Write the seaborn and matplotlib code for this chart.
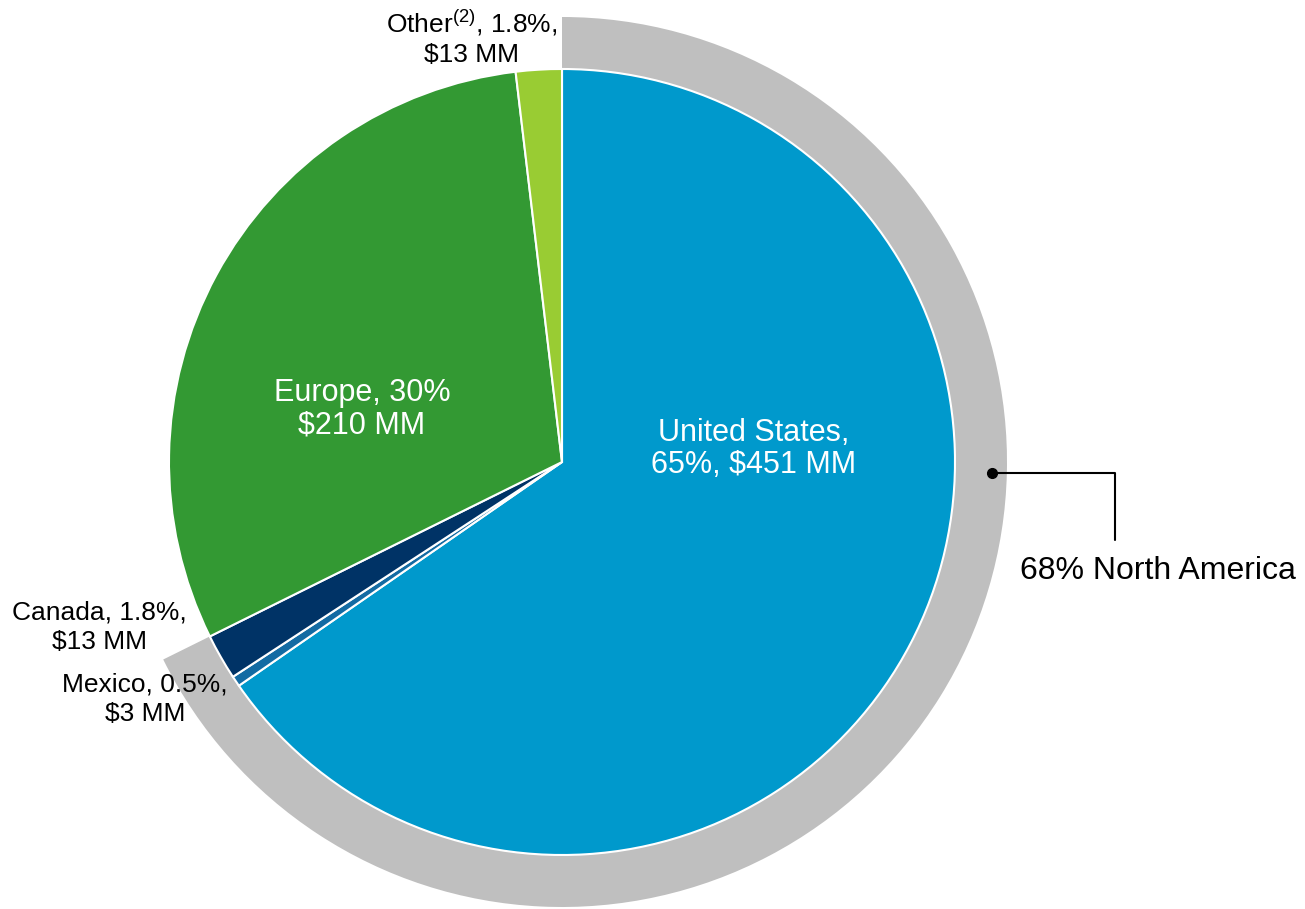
import matplotlib
matplotlib.use("Agg")
import matplotlib.pyplot as plt
import seaborn as sns

# %% Data
regions = ["United States", "Mexico", "Canada", "Europe", "Other"]
revenue_mm = [451, 3, 13, 210, 13]
share_pct = ["65%", "0.5%", "1.8%", "30%", "1.8%"]
slice_colors = ["#0099CC", "#136BA3", "#003366", "#339933", "#99CC33"]

north_america = ["United States", "Mexico", "Canada"]
na_label = "68% North America"

# %% Style
sns.set_theme(style="white")
plt.rcParams["font.family"] = ["Liberation Sans", "DejaVu Sans"]
plt.rcParams["mathtext.fontset"] = "custom"
plt.rcParams["mathtext.rm"] = "Liberation Sans"

W, H = 1305, 909
fig = plt.figure(figsize=(W / 100, H / 100), dpi=100)
ax = fig.add_axes([0, 0, 1, 1])

cx, cy = 562, H - 462
r_pie = 393
r_ring = 445

# outer grey ring for North America
na_total = sum(v for k, v in zip(regions, revenue_mm) if k in north_america)
rest_total = sum(revenue_mm) - na_total
ax.pie(
    [na_total, rest_total],
    colors=["#BFBFBF", "none"],
    startangle=90,
    counterclock=False,
    radius=r_ring,
    center=(cx, cy),
    wedgeprops=dict(linewidth=0),
)

# main pie
ax.pie(
    revenue_mm,
    colors=slice_colors,
    startangle=90,
    counterclock=False,
    radius=r_pie,
    center=(cx, cy),
    wedgeprops=dict(edgecolor="white", linewidth=1.5),
)

ax.set_xlim(0, W)
ax.set_ylim(0, H)
ax.set_aspect("equal")
ax.axis("off")


def px(x, y):
    return x, H - y


lab = dict(zip(regions, zip(share_pct, revenue_mm)))

# labels inside
p, v = lab["United States"]
ax.text(*px(754, 449), f"United States,\n{p}, ${v} MM", color="white",
        fontsize=22, ha="center", va="center", linespacing=1.12)
p, v = lab["Europe"]
ax.text(*px(362, 409), f"Europe, {p}\n${v} MM", color="white",
        fontsize=22, ha="center", va="center", linespacing=1.12)

# labels outside
p, v = lab["Other"]
ax.text(*px(472, 37), f"Other$^{{\\mathrm{{(2)}}}}$, {p},\n${v} MM", color="black",
        fontsize=19, ha="center", va="center", linespacing=1.3)
p, v = lab["Canada"]
ax.text(*px(99, 627), f"Canada, {p},\n${v} MM", color="black",
        fontsize=19, ha="center", va="center", linespacing=1.3)
p, v = lab["Mexico"]
ax.text(*px(145, 699), f"Mexico, {p},\n${v} MM", color="black",
        fontsize=19, ha="center", va="center", linespacing=1.3)

# North America callout
ax.plot([992, 1115, 1115], [H - 473, H - 473, H - 540], color="black", lw=1.5)
ax.plot([992], [H - 473], "o", color="black", ms=7)
ax.text(*px(1020, 571), na_label, color="black", fontsize=23, ha="left", va="center")

plt.savefig("out.png", dpi=100, facecolor="white")
